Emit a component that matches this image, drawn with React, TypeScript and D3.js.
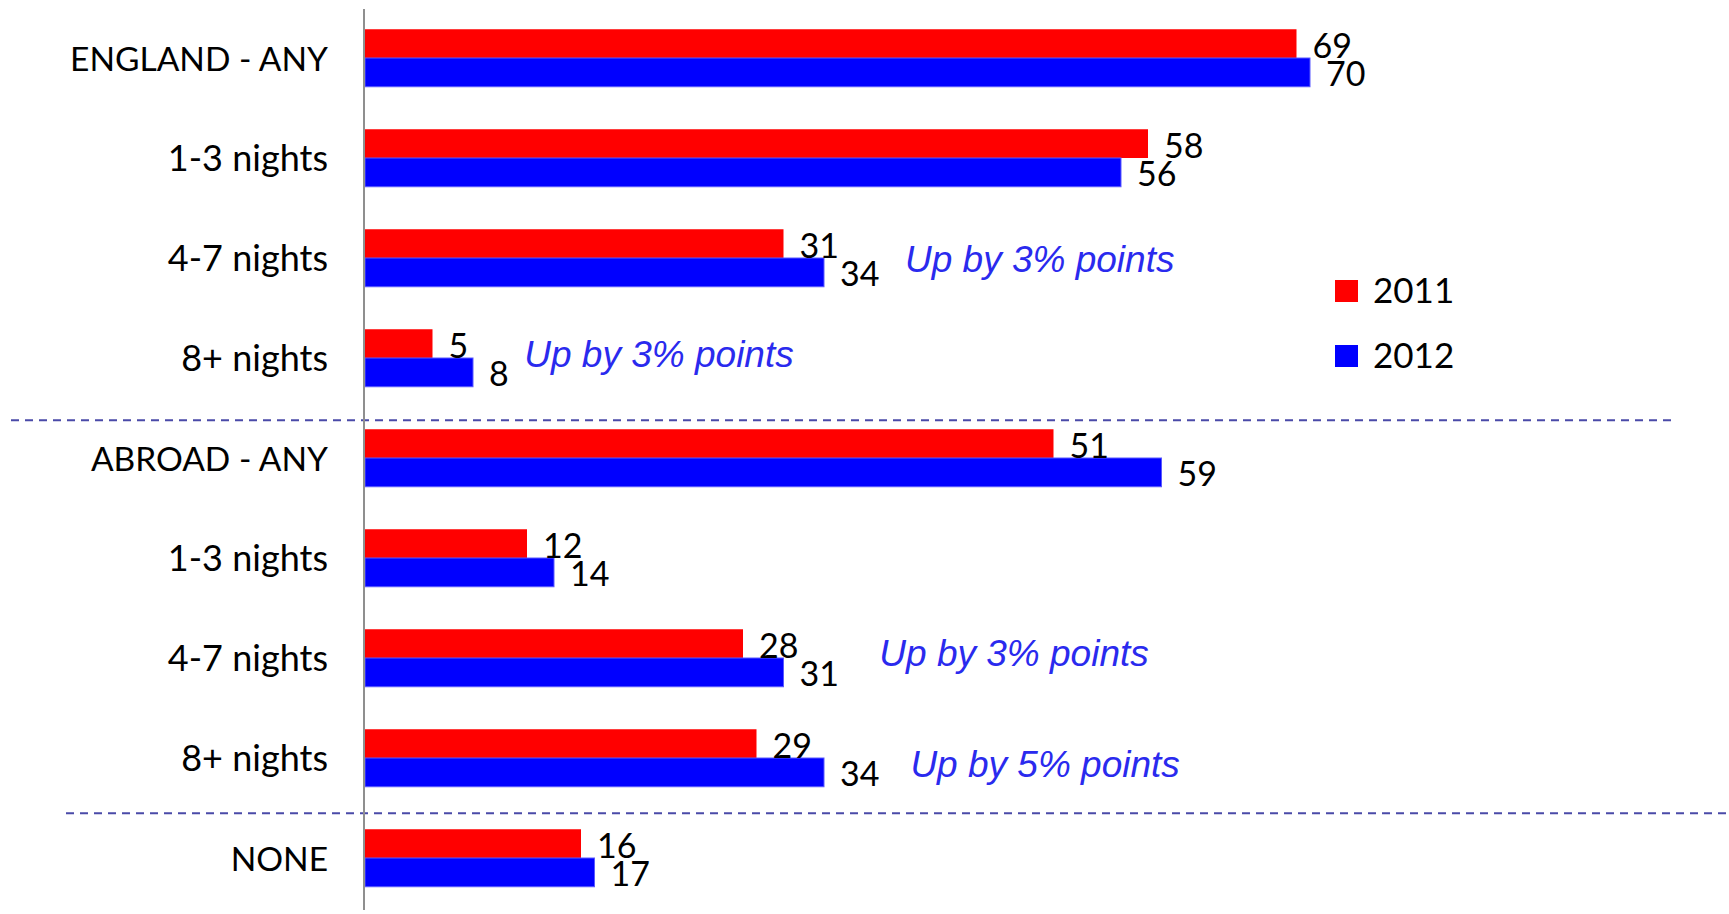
import React from "react";
import * as d3 from "d3";

const categories = [
  "ENGLAND - ANY",
  "1-3 nights",
  "4-7 nights",
  "8+ nights",
  "ABROAD - ANY",
  "1-3 nights",
  "4-7 nights",
  "8+ nights",
  "NONE",
];
const values2011 = [69, 58, 31, 5, 51, 12, 28, 29, 16];
const values2012 = [70, 56, 34, 8, 59, 14, 31, 34, 17];
const seriesNames = ["2011", "2012"];
const seriesColors = ["#FF0000", "#0000FF"];

// annotation: category index, text, x anchor in data units, baseline offset
const annotations = [
  { cat: 2, text: "Up by 3% points", at: 40.0, dy: 14 },
  { cat: 3, text: "Up by 3% points", at: 11.8, dy: 9 },
  { cat: 6, text: "Up by 3% points", at: 38.1, dy: 8 },
  { cat: 7, text: "Up by 5% points", at: 40.4, dy: 19 },
];

const W = 1729;
const H = 914;

export default function App() {
  const idx = categories.map((_, i) => i);
  const y = d3
    .scaleBand<number>()
    .domain(idx)
    .range([8, 908])
    .paddingInner(0.425)
    .paddingOuter(0.2125);
  const x = d3.scaleLinear().domain([0, 100]).range([365, 1715]);
  const bh = y.bandwidth() / 2;
  const series = [values2011, values2012];
  const labelFont = "Lato, 'Open Sans', sans-serif";

  const sep1 = (y(4) as number) - 9;
  const sep2 = (y(8) as number) - 16;

  return (
    <svg
      width={W}
      height={H}
      style={{ position: "absolute", left: 0, top: 0, background: "#fff" }}
    >
      <rect x={0} y={0} width={W} height={H} fill="#fff" />
      {/* separators */}
      <line x1={11} x2={1673} y1={sep1} y2={sep1} stroke="#4a4aa8" strokeWidth={2} strokeDasharray="8,6" />
      <line x1={66} x2={W} y1={sep2} y2={sep2} stroke="#4a4aa8" strokeWidth={2} strokeDasharray="8,6" />
      {/* bars */}
      {series.map((vals, s) =>
        vals.map((v, i) => {
          const top = (y(i) as number) + s * bh;
          return (
            <rect
              key={`b${s}-${i}`}
              x={x(0)}
              y={top}
              width={x(v) - x(0)}
              height={bh}
              fill={seriesColors[s]}
              stroke={s === 1 ? "#5a5aff" : "none"}
              strokeWidth={s === 1 ? 1 : 0}
            />
          );
        })
      )}
      {/* axis line */}
      <line x1={364} x2={364} y1={9} y2={910} stroke="#8f8f8f" strokeWidth={2} />
      {/* category labels */}
      {categories.map((c, i) => (
        <text
          key={`c${i}`}
          x={328}
          y={(y(i) as number) + y.bandwidth() / 2 + 13}
          textAnchor="end"
          fontFamily={labelFont}
          fontSize={c === c.toUpperCase() ? 33.5 : 36}
          fill="#000"
        >
          {c}
        </text>
      ))}
      {/* value labels */}
      {series.map((vals, s) =>
        vals.map((v, i) => (
          <text
            key={`v${s}-${i}`}
            x={x(v) + 16}
            y={(y(i) as number) + (s + 1) * bh - 0.5}
            fontFamily={labelFont}
            fontSize={34}
            fill="#000"
          >
            {v}
          </text>
        ))
      )}
      {/* annotations */}
      {annotations.map((a, k) => (
        <text
          key={`a${k}`}
          x={x(a.at)}
          y={(y(a.cat) as number) + y.bandwidth() / 2 + a.dy}
          fontFamily="'Liberation Sans', Arial, sans-serif"
          fontStyle="italic"
          fontSize={37}
          fill="#2a2aee"
        >
          {a.text}
        </text>
      ))}
      {/* legend */}
      {seriesNames.map((n, s) => (
        <g key={`l${s}`} transform={`translate(1335, ${280 + s * 65})`}>
          <rect x={0} y={0} width={23} height={22} fill={seriesColors[s]} />
          <text x={38} y={23} fontFamily={labelFont} fontSize={35} fill="#000">
            {n}
          </text>
        </g>
      ))}
    </svg>
  );
}
